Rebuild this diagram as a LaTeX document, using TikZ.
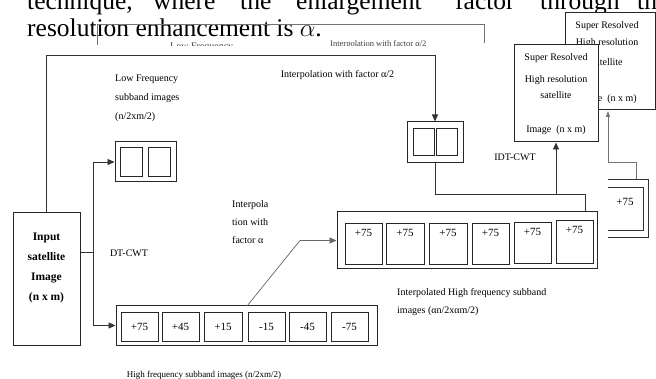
\documentclass[tikz,border=0pt]{standalone}
\usepackage{fontspec}
\setmainfont{Liberation Serif}
\usetikzlibrary{arrows.meta}
\begin{document}
\begin{tikzpicture}[x=1pt,y=-1pt,
  rbox/.style 2 args={draw=black!85,line width=1pt,fill=white,inner sep=0pt,minimum width=#1,minimum height=#2},
  ibox/.style 2 args={draw=black!85,line width=0.9pt,fill=white,inner sep=0pt,minimum width=#1,minimum height=#2,font=\fontsize{11}{12}\selectfont},
  ln/.style={draw=black!80,line width=0.9pt},
  arr/.style={ln,-{Triangle[length=7pt,width=6pt]}},
  ghost/.style={draw=black!55,line width=0.8pt},
  lbl/.style={inner sep=0pt,font=\fontsize{10}{19}\selectfont},
  big/.style={inner sep=0pt,font=\fontsize{25.5}{28}\selectfont},
  pl/.style={label={[inner sep=0pt,font=\fontsize{11}{12}\selectfont,anchor=north,yshift=-7pt]north:+75}}]
\useasboundingbox (0,0) rectangle (656,379);
\fill[white] (0,0) rectangle (656,379);

% paragraph text above the figure
\node[big,anchor=base west] (w1) at (27,10) {technique,};
\node[big,anchor=base west] (w2) at (153,10) {where};
\node[big,anchor=base west] (w3) at (240,10) {the};
\node[big,anchor=base west] (w4) at (296,10) {enlargement};
\node[big,anchor=base west] (w5) at (455,10) {factor};
\node[big,anchor=base west] (w6) at (540,10) {through};
\node[big,anchor=base west] (w7) at (637,10) {the};
\node[big,anchor=base west] (l2) at (27,37) {resolution enhancement is $\alpha$.};

% ghost frame (scan artefact)
\coordinate (ga1) at (97,45);
\coordinate (ga2) at (97,24);
\coordinate (ga3) at (484,24);
\coordinate (ga4) at (484,43);
\draw[ghost] (ga1) -- (ga2) -- (ga3) -- (ga4);
\begin{scope}
\clip (0,0) rectangle (656,46);
\node[lbl,anchor=west,text=black!75,font=\fontsize{8.5}{10}\selectfont] (gint) at (330,44) {Interpolation with factor α/2};
\node[lbl,anchor=west,text=black!75] (glow) at (170,47) {Low Frequency};
\end{scope}

% ghost super resolved box
\node[rbox={90}{97}] (gsr) at (610,61.5) {};
\node[lbl] (gs1) at (607,26) {Super Resolved};
\node[lbl] (gs2) at (607,43) {High resolution};
\node[lbl] (gs3) at (607,62) {satellite};
\node[lbl] (gs4) at (607,99) {Image~~(n x m)};

% ghost arrow and ghost box
\coordinate (gtip) at (608,111);
\coordinate (gc1) at (608,162);
\coordinate (gc2) at (636,162);
\coordinate (gc3) at (636,179);
\draw[ghost,-{Triangle[length=6pt,width=4pt]}] (gc1) -- (gtip);
\draw[ghost] (gc1) -- (gc2) -- (gc3);
\draw[ln] (608,179) -- (648,179) -- (648,237) -- (608,237);
\draw[ln] (608,187) -- (643,187) -- (643,230) -- (608,230);
\node[lbl,font=\fontsize{11}{12}\selectfont] (gp) at (625,202) {+75};

% super resolved output box
\node[rbox={84}{97}] (sr) at (556,93.5) {};
\node[lbl] (s1) at (556,58) {Super Resolved};
\node[lbl] (s2) at (556,80) {High resolution};
\node[lbl] (s3) at (556,95) {satellite};
\node[lbl] (s4) at (556,130) {Image~~(n x m)};

% input box
\node[rbox={67}{132}] (input) at (46.5,279) {};
\node[inner sep=0pt,align=center,font=\bfseries\fontsize{11.5}{20.3}\selectfont] (intxt) at (46.5,268) {Input\\satellite\\Image\\(n x m)};

% low frequency subbands
\node[rbox={61}{40}] (lf) at (145.5,162) {};
\node[ibox={22}{29}] (lf1) at (131,161.5) {};
\node[ibox={22}{29}] (lf2) at (159,161.5) {};
\node[lbl,align=left,anchor=north west] (lflbl) at (115,74.5) {Low Frequency\\subband images\\(n/2xm/2)};

% interpolated low frequency subbands
\node[rbox={56}{41}] (small) at (435,142.5) {};
\node[ibox={21}{27}] (sm1) at (423.5,141.5) {};
\node[ibox={21}{27}] (sm2) at (446.5,141.5) {};

% high frequency subbands
\node[rbox={261}{39}] (hf) at (246.5,325.5) {};
\node[ibox={37}{29}] (h1) at (139.5,326.5) {+75};
\node[ibox={37}{29}] (h2) at (180.5,326.5) {+45};
\node[ibox={38}{29}] (h3) at (223,326.5) {+15};
\node[ibox={37}{29}] (h4) at (266.5,326.5) {-15};
\node[ibox={37}{29}] (h5) at (307.5,326.5) {-45};
\node[ibox={37}{29}] (h6) at (349.5,326.5) {-75};
\node[lbl,font=\fontsize{9}{11}\selectfont] (hflbl) at (204,375) {High frequency subband images (n/2xm/2)};

% interpolated high frequency subbands
\node[rbox={260}{57}] (interp) at (467,240.5) {};
\node[ibox={37}{41},pl] (i1) at (363.5,243.5) {};
\node[ibox={38}{41},pl] (i2) at (405,243.5) {};
\node[ibox={38}{41},pl] (i3) at (448,243.5) {};
\node[ibox={37}{41},pl] (i4) at (490.5,243.5) {};
\node[ibox={37}{41},pl] (i5) at (532.5,242.5) {};
\node[ibox={37}{43},pl] (i6) at (574.5,241.5) {};
\node[lbl,align=left,anchor=north west,font=\fontsize{10}{18}\selectfont] (iplbl) at (397,288.5) {Interpolated High frequency subband\\images (αn/2xαm/2)};

% labels
\node[lbl] (dtcwt) at (129,253) {DT-CWT};
\node[lbl] (idtcwt) at (515,157) {IDT-CWT};
\node[lbl] (ilf) at (337.5,75) {Interpolation with factor α/2};
\node[lbl,align=left,anchor=north west,font=\fontsize{10}{18}\selectfont] (ihf) at (232,200.5) {Interpola\\tion with\\factor α};

% connectors
\coordinate (tl) at (46.5,55);
\draw[arr] (input.north) -- (tl) -| (small.north);
\coordinate (split) at (93,252);
\draw[ln] (input.east |- split) -- (split);
\draw[arr] (split) |- (lf.west);
\draw[arr] (split) |- (hf.west);
\coordinate (hfo) at (247,306);
\coordinate (bend) at (300,240.5);
\draw[arr,draw=black!60,line width=0.7pt] (hfo) -- (bend) -- (interp.west);
\coordinate (m1) at (435,194);
\coordinate (m2) at (556,194);
\coordinate (m3) at (585,194);
\draw[ln] (small.south) -- (m1) -- (m3) -- (m3 |- interp.north);
\draw[arr] (m2) -- (sr.south);
\end{tikzpicture}
\end{document}
